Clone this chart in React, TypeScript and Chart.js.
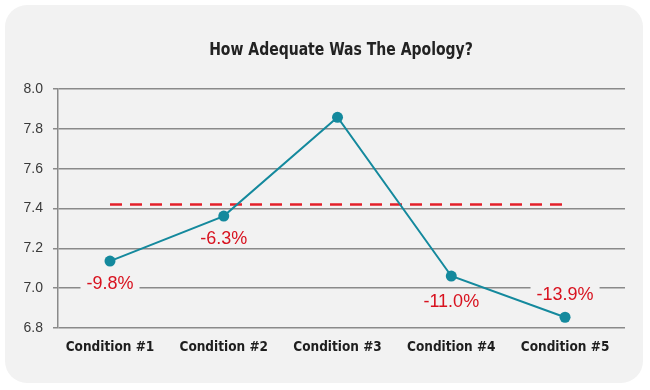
import React, { useEffect, useRef } from "react";
import { Chart, registerables } from "chart.js";

Chart.register(...registerables);

const chartTitle = "How Adequate Was The Apology?";
const categories = ["Condition #1", "Condition #2", "Condition #3", "Condition #4", "Condition #5"];
const ratings = [7.136, 7.362, 7.858, 7.061, 6.854];
const baselineValue = 7.42;
const changeLabels = ["-9.8%", "-6.3%", "", "-11.0%", "-13.9%"];
const yTicks = [6.8, 7.0, 7.2, 7.4, 7.6, 7.8, 8.0];

const TEAL = "#14899d";
const RED = "#d8121f";
const CARD = "#f2f2f2";
const CONDENSED = "'DejaVu Sans Condensed', 'Liberation Sans Narrow', sans-serif";
const labelOffsets = [22, 22, 0, 25, -23];

const titlePlugin = {
  id: "condensedTitle",
  afterDraw(chart: any) {
    const ctx = chart.ctx;
    ctx.save();
    ctx.font = `bold 18px ${CONDENSED}`;
    ctx.fillStyle = "#222";
    ctx.textAlign = "center";
    ctx.textBaseline = "middle";
    ctx.translate(chart.width / 2 + 16, 50);
    ctx.scale(0.865, 1);
    ctx.fillText(chartTitle, 0, 0);
    ctx.restore();
  },
};

const labelPlugin = {
  id: "changeLabels",
  afterDatasetsDraw(chart: any) {
    const meta = chart.getDatasetMeta(0);
    const ctx = chart.ctx;
    ctx.save();
    ctx.font = "18px 'Liberation Sans', Arial, sans-serif";
    ctx.textAlign = "center";
    ctx.textBaseline = "middle";
    meta.data.forEach((pt: any, i: number) => {
      const txt = changeLabels[i];
      if (!txt) return;
      const x = pt.x;
      const y = pt.y + labelOffsets[i];
      const w = ctx.measureText(txt).width;
      ctx.fillStyle = CARD;
      ctx.fillRect(x - w / 2 - 6, y - 9, w + 12, 18);
      ctx.fillStyle = RED;
      ctx.fillText(txt, x, y + 1);
    });
    ctx.restore();
  },
};

export default function App() {
  const ref = useRef<HTMLCanvasElement>(null);
  useEffect(() => {
    if (!ref.current) return;
    const chart = new Chart(ref.current, {
      type: "line",
      data: {
        datasets: [
          {
            label: "Rating",
            data: ratings.map((v, i) => ({ x: i, y: v })),
            borderColor: TEAL,
            backgroundColor: TEAL,
            borderWidth: 2,
            pointRadius: 5.5,
            pointBackgroundColor: TEAL,
            pointBorderWidth: 0,
            tension: 0,
            order: 0,
          },
          {
            label: "Baseline",
            data: categories.map((_, i) => ({ x: i, y: baselineValue })),
            borderColor: "#e3202a",
            borderWidth: 2.5,
            borderDash: [12, 8],
            pointRadius: 0,
            order: 1,
          },
        ],
      },
      options: {
        animation: false,
        responsive: false,
        layout: { padding: { left: 0, right: 25, top: 89, bottom: 0 } },
        plugins: {
          legend: { display: false },
          tooltip: { enabled: false },
          title: { display: false },
        },
        scales: {
          x: {
            type: "linear",
            min: -0.457,
            max: 4.527,
            grid: { display: false, drawTicks: false },
            border: { display: false },
            afterBuildTicks(scale: any) {
              scale.ticks = categories.map((_, i) => ({ value: i }));
            },
            afterFit(scale: any) {
              scale.height = 62;
            },
            ticks: {
              callback: (v: any) => categories[v] ?? "",
              color: "#1e1e1e",
              font: { family: CONDENSED, size: 13.5, weight: "bold" },
              padding: 11,
              maxRotation: 0,
              autoSkip: false,
            },
          },
          y: {
            min: 6.8,
            max: 8.0,
            afterBuildTicks(scale: any) {
              scale.ticks = yTicks.map((v) => ({ value: v }));
            },
            afterFit(scale: any) {
              scale.width = 58;
            },
            grid: { color: "#8a8a8a", lineWidth: 1.5, tickLength: 5 },
            border: { display: true, color: "#8a8a8a", width: 1.5 },
            ticks: {
              callback: (v: any) => Number(v).toFixed(1),
              color: "#3a3a3a",
              font: { family: "'Liberation Sans', Arial, sans-serif", size: 14 },
              padding: 10,
            },
          },
        },
      },
      plugins: [labelPlugin, titlePlugin],
    });
    return () => chart.destroy();
  }, []);

  return (
    <div style={{ position: "fixed", left: 0, top: 0, width: 650, height: 390, background: "#fff" }}>
      <div
        style={{
          position: "absolute",
          left: 5,
          top: 5,
          width: 638,
          height: 378,
          borderRadius: 22,
          background: CARD,
        }}
      />
      <canvas ref={ref} width={650} height={390} style={{ position: "absolute", left: 0, top: 0 }} />
    </div>
  );
}
